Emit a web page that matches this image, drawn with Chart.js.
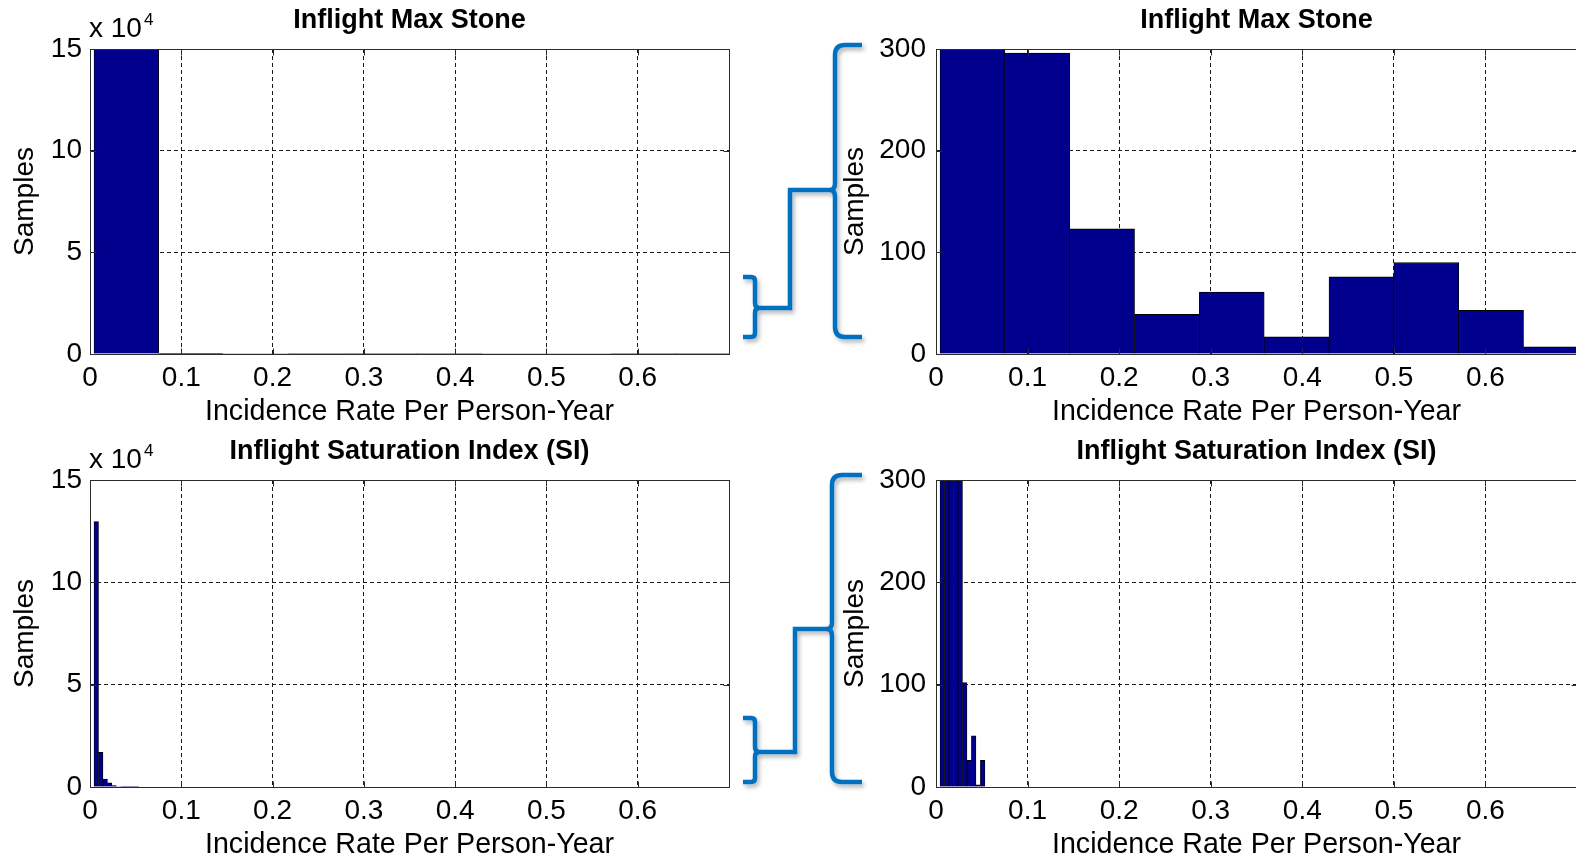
<!DOCTYPE html>
<html>
<head>
<meta charset="utf-8">
<script src="https://cdn.jsdelivr.net/npm/chart.js@4.4.1/dist/chart.umd.min.js"></script>
<style>
  html, body { margin: 0; padding: 0; background: #fff; overflow: hidden; width: 1576px; height: 857px; }
  canvas { position: absolute; }
  svg { position: absolute; left: 0; top: 0; }
</style>
</head>
<body>
<canvas id="maxStoneFull" width="745" height="430" style="left:0;top:0"></canvas>
<canvas id="maxStoneZoom" width="830" height="430" style="left:770px;top:0"></canvas>
<canvas id="siFull" width="745" height="427" style="left:0;top:430px"></canvas>
<canvas id="siZoom" width="830" height="427" style="left:770px;top:430px"></canvas>

<svg width="1576" height="857" viewBox="0 0 1576 857">
  <defs>
    <filter id="soft" x="-20%" y="-20%" width="140%" height="140%">
      <feDropShadow dx="2" dy="3" stdDeviation="2" flood-color="#000" flood-opacity="0.3"/>
    </filter>
  </defs>
  <g fill="none" stroke="#0070C0" stroke-width="4.5" filter="url(#soft)">
    <!-- upper pair of braces -->
    <path d="M743,277 L751,277 Q755,277 755,281 L755,303 Q755,308 759,308 Q755,308 755,313 L755,333 Q755,337 751,337 L743,337"/>
    <path d="M758,308 L790,308 L790,190 L831,190"/>
    <path d="M862,45 L845,45 Q835,45 835,55 L835,183 Q835,190 830,190 Q835,190 835,197 L835,327 Q835,337 845,337 L862,337"/>
    <!-- lower pair of braces -->
    <path d="M743,718 L751,718 Q755,718 755,722 L755,747 Q755,752 759,752 Q755,752 755,757 L755,778 Q755,782 751,782 L743,782"/>
    <path d="M758,752 L795,752 L795,629 L828,629"/>
    <path d="M862,475 L842,475 Q832,475 832,485 L832,622 Q832,629 827,629 Q832,629 832,636 L832,772 Q832,782 842,782 L862,782"/>
  </g>
</svg>

<script>
// Histogram bins (bin centres) and counts
const maxStoneBinCenters = [0.0398, 0.1106, 0.1814, 0.2522, 0.3230, 0.3938, 0.4646, 0.5354, 0.6062, 0.6770];
const maxStoneCounts     = [149800, 296, 123, 39, 61, 17, 76, 90, 43, 7];

const siBinCenters = [0.00685, 0.01175, 0.01665, 0.02155, 0.02645, 0.03135, 0.03625, 0.04115, 0.04605, 0.05095];
const siCounts     = [129700, 16900, 3900, 2000, 700, 102, 26, 50, 2, 26];

// Axis ticks
const xTickValues = [0, 0.1, 0.2, 0.3, 0.4, 0.5, 0.6];
const xTickLabels = ['0', '0.1', '0.2', '0.3', '0.4', '0.5', '0.6'];
const yTickValuesFull = [0, 50000, 100000, 150000];
const yTickLabelsFull = ['0', '5', '10', '15'];
const yTickValuesZoom = [0, 100, 200, 300];
const yTickLabelsZoom = ['0', '100', '200', '300'];

const titles = ['Inflight Max Stone', 'Inflight Saturation Index (SI)'];
const xAxisTitle = 'Incidence Rate Per Person-Year';
const yAxisTitle = 'Samples';

const FONT = "'Liberation Sans', Arial, Helvetica, sans-serif";
Chart.defaults.font.family = FONT;
Chart.defaults.color = '#000';

// Box, inward tick marks and the axis texts in the style of a classic plotting package
const framePlugin = {
  id: 'frame',
  afterDraw(chart, args, o) {
    const { ctx, chartArea: a, scales: { x, y } } = chart;
    const L = Math.round(a.left) + 0.5, R = Math.round(a.right) + 0.5;
    const T = Math.round(a.top) + 0.5, B = Math.round(a.bottom) + 0.5;
    ctx.save();
    ctx.strokeStyle = '#2b2b2b';
    ctx.lineWidth = 1;
    ctx.beginPath();
    x.ticks.forEach(t => {
      const p = Math.round(x.getPixelForValue(t.value)) + 0.5;
      ctx.moveTo(p, B); ctx.lineTo(p, B - 6);
      ctx.moveTo(p, T); ctx.lineTo(p, T + 6);
    });
    y.ticks.forEach(t => {
      const p = Math.round(y.getPixelForValue(t.value)) + 0.5;
      ctx.moveTo(L, p); ctx.lineTo(L + 6, p);
      ctx.moveTo(R, p); ctx.lineTo(R - 6, p);
    });
    ctx.stroke();
    ctx.strokeRect(L, T, R - L, B - T);

    ctx.fillStyle = '#000';
    ctx.textBaseline = 'alphabetic';
    ctx.textAlign = 'center';
    ctx.font = 'bold 27px ' + FONT;
    ctx.fillText(o.title, (a.left + a.right) / 2, a.top - 21);

    ctx.font = '28.6px ' + FONT;
    ctx.fillText(xAxisTitle, (a.left + a.right) / 2, a.bottom + 66);

    ctx.font = '28px ' + FONT;
    ctx.save();
    ctx.translate(a.left - o.yTitleGap, (a.top + a.bottom) / 2);
    ctx.rotate(-Math.PI / 2);
    ctx.fillText(yAxisTitle, 0, 0);
    ctx.restore();

    if (o.exponent) {
      ctx.textAlign = 'left';
      ctx.font = '28px ' + FONT;
      const base = 'x 10';
      ctx.fillText(base, a.left - 1, a.top - 12);
      const w = ctx.measureText(base).width;
      ctx.font = '17px ' + FONT;
      ctx.fillText(o.exponent, a.left - 1 + w + 2, a.top - 24);
    }
    ctx.restore();
  }
};

function histogram(id, centers, counts, cfg) {
  const canvas = document.getElementById(id);
  const W = canvas.width, H = canvas.height;
  const area = cfg.area;
  return new Chart(canvas, {
    type: 'bar',
    data: {
      datasets: [{
        data: centers.map((c, i) => ({ x: c, y: counts[i] })),
        backgroundColor: '#00008C',
        borderColor: '#000',
        borderWidth: { top: 1, left: 0.7, right: 0.7, bottom: 0 },
        barPercentage: 1,
        categoryPercentage: 1
      }]
    },
    options: {
      responsive: false,
      devicePixelRatio: 1,
      animation: false,
      layout: { padding: { left: 0, top: area.top, right: W - area.right, bottom: 0 } },
      plugins: {
        legend: { display: false },
        tooltip: { enabled: false },
        frame: { title: cfg.title, yTitleGap: cfg.yTitleGap, exponent: cfg.exponent }
      },
      scales: {
        x: {
          type: 'linear',
          min: 0, max: 0.7,
          offset: false,
          afterBuildTicks: s => { s.ticks = xTickValues.map(v => ({ value: v })); },
          afterFit: s => { s.height = H - area.bottom; },
          ticks: {
            autoSkip: false, maxRotation: 0, padding: 7,
            font: { size: 28 },
            callback: (v, i) => xTickLabels[i]
          },
          grid: { offset: false, color: '#1a1a1a', lineWidth: 1, drawTicks: false },
          border: { display: false, dash: [4, 3] }
        },
        y: {
          min: 0, max: cfg.yMax,
          afterBuildTicks: s => { s.ticks = cfg.yTicks.map(v => ({ value: v })); },
          afterFit: s => { s.width = area.left; },
          ticks: {
            padding: cfg.yPad,
            font: { size: 28 },
            callback: (v, i) => cfg.yLabels[i]
          },
          grid: { color: '#1a1a1a', lineWidth: 1, drawTicks: false },
          border: { display: false, dash: [4, 3] }
        }
      }
    },
    plugins: [framePlugin]
  });
}

histogram('maxStoneFull', maxStoneBinCenters, maxStoneCounts, {
  title: titles[0], exponent: '4', yTitleGap: 57, yPad: 8,
  yMax: 150000, yTicks: yTickValuesFull, yLabels: yTickLabelsFull,
  area: { left: 90, top: 49, right: 729, bottom: 354 }
});
histogram('maxStoneZoom', maxStoneBinCenters, maxStoneCounts, {
  title: titles[0], yTitleGap: 73, yPad: 10,
  yMax: 300, yTicks: yTickValuesZoom, yLabels: yTickLabelsZoom,
  area: { left: 166, top: 49, right: 807, bottom: 354 }
});
histogram('siFull', siBinCenters, siCounts, {
  title: titles[1], exponent: '4', yTitleGap: 57, yPad: 8,
  yMax: 150000, yTicks: yTickValuesFull, yLabels: yTickLabelsFull,
  area: { left: 90, top: 50, right: 729, bottom: 357 }
});
histogram('siZoom', siBinCenters, siCounts, {
  title: titles[1], yTitleGap: 73, yPad: 10,
  yMax: 300, yTicks: yTickValuesZoom, yLabels: yTickLabelsZoom,
  area: { left: 166, top: 50, right: 807, bottom: 357 }
});
</script>
</body>
</html>
